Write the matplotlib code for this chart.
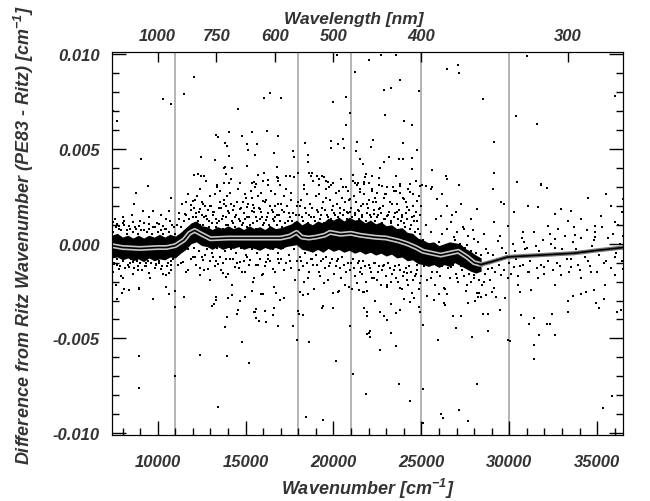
import matplotlib
matplotlib.use("Agg")
import matplotlib.pyplot as plt
from matplotlib.ticker import MultipleLocator, FormatStrFormatter

# units: wavenumber in cm^-1, differences in 1e-3 cm^-1
mean_x = [7400, 8000, 9000, 10000, 10500, 11000, 11500, 11800, 12100, 12500, 13000, 14000,
          15000, 16000, 17000, 17500, 17900, 18200, 18600, 19000, 19500, 19800, 20400, 21000,
          21500, 22300, 23000, 23700, 24200, 24700, 25100, 25600, 26100, 26600, 27100, 27600,
          28000, 28400, 29000, 29900, 30800, 31800, 33700, 35000, 36500]
mean_mk = [-0.1, -0.2, -0.25, -0.2, -0.2, -0.1, 0.2, 0.55, 0.7, 0.5, 0.26, 0.3,
           0.3, 0.3, 0.3, 0.4, 0.6, 0.35, 0.3, 0.35, 0.45, 0.6, 0.5, 0.55,
           0.45, 0.35, 0.3, 0.15, 0.0, -0.2, -0.4, -0.5, -0.6, -0.5, -0.4, -0.7,
           -1.0, -1.1, -0.95, -0.7, -0.65, -0.6, -0.5, -0.35, -0.2]

# dense core of the point cloud (ragged upper / lower edge)
band_x = [7400, 7700, 8000, 8300, 8600, 8900, 9200, 9500, 9800, 10100, 10400, 10700,
          11000, 11300, 11600, 11900, 12200, 12500, 12800, 13100, 13400, 13700, 14000, 14300,
          14600, 14900, 15200, 15500, 15800, 16100, 16400, 16700, 17000, 17300, 17600, 17900,
          18200, 18500, 18800, 19100, 19400, 19700, 20000, 20300, 20600, 20900, 21200, 21500,
          21800, 22100, 22400, 22700, 23000, 23300, 23600, 23900, 24200, 24500, 24800, 25100,
          25400, 25700, 26000, 26300, 26600, 26900, 27200, 27500, 27800, 28100, 28400]
band_hi = [0.45, 0.55, 0.35, 0.45, 0.3, 0.45, 0.3, 0.45, 0.35, 0.5, 0.35, 0.5,
           0.4, 0.6, 0.85, 1.1, 1.2, 0.95, 0.9, 0.75, 0.9, 0.8, 0.95, 0.8,
           0.9, 0.75, 0.95, 0.8, 0.9, 0.75, 0.95, 0.8, 0.85, 0.95, 1.05, 1.25,
           1.0, 1.15, 1.0, 1.2, 1.1, 1.35, 1.25, 1.4, 1.2, 1.4, 1.25, 1.3,
           1.1, 1.25, 1.05, 1.15, 0.95, 1.0, 0.8, 0.85, 0.6, 0.55, 0.3, 0.2,
           0.05, 0.1, -0.1, 0.0, 0.1, 0.05, 0.0, -0.25, -0.4, -0.6, -0.75]
band_lo = [-0.75, -0.7, -0.85, -0.75, -0.9, -0.8, -0.95, -0.75, -0.9, -0.8, -0.85, -0.7,
           -0.75, -0.5, -0.3, 0.0, 0.1, -0.1, -0.15, -0.3, -0.15, -0.3, -0.2, -0.25,
           -0.15, -0.3, -0.2, -0.25, -0.35, -0.2, -0.3, -0.2, -0.3, -0.15, -0.1, -0.05,
           -0.3, -0.35, -0.45, -0.3, -0.45, -0.25, -0.4, -0.3, -0.45, -0.35, -0.5, -0.4,
           -0.55, -0.45, -0.6, -0.5, -0.65, -0.55, -0.75, -0.7, -0.9, -0.85, -1.05, -1.1,
           -1.2, -1.1, -1.25, -1.1, -1.2, -1.0, -1.15, -1.3, -1.45, -1.55, -1.45]

# outlying lines
out_x = [
    7430, 7710, 9050, 9430, 10290, 10770, 11490, 12040, 12480, 12080, 12290, 12480, 12610, 13240, 13340,
    13430, 13390, 13750, 13810, 13870, 13810, 13970, 14040, 14060, 14230, 14040, 13750, 14550, 14800, 15070,
    15130, 15370, 15530, 15660, 15070, 15700, 16020, 16020, 16400, 17030, 16230, 16860, 16590, 16780, 16770,
    16820, 16950, 15340, 15470, 15580, 16000, 16290, 17280, 17530, 17680, 17770, 17970, 18400, 18540, 18570,
    18630, 18780, 19050, 19200, 19370, 19490, 19600, 19700, 19870, 19850, 19870, 19980, 20210, 20270, 20570,
    20590, 20690, 20730, 20950, 21220, 21340, 21280, 21510, 21660, 21850, 22000, 21110, 21390, 21710, 22730,
    23530, 23810, 22900, 23300, 24860, 22950, 24000, 24480, 22250, 22150, 23940, 24730, 23140, 22900, 23710,
    23970, 24440, 24440, 22670, 21870, 22190, 22570, 23580, 23810, 24380, 24670, 21710, 26480, 27090, 27170,
    28480, 29110, 29140, 25580, 26380, 26440, 27140, 25050, 25240, 25620, 30990, 30380, 31570, 36040, 30440,
    31810, 32150,
    7710, 7970, 8100, 8340, 8950, 9710, 10670, 11010, 11010, 11470, 8910, 8950, 11010, 12420, 13430,
    13940, 13090, 13200, 13300, 13340, 13850, 13970, 14000, 14230, 14540, 14570, 14710, 14990, 14820, 15180,
    15390, 15470, 15530, 15620, 15620, 15770, 15870, 16000, 16100, 16150, 16610, 16570, 16710, 16860, 16950,
    17200, 17710, 17910, 18000, 18040, 18100, 18290, 18250, 18570, 18610, 18420, 19430, 19340, 19390, 20000,
    20150, 20250, 20330, 20950, 21110, 21050, 21430, 21710, 21710, 21910, 21870, 22000, 22060, 21680, 21910,
    21910, 22100, 22380, 22630, 22670, 22860, 23050, 23300, 23300, 23530, 23580, 23770, 24000, 24340, 24570,
    24860, 24910, 25110, 23710, 24340, 25110, 25110, 25300, 25710, 25940, 26000, 26290, 26330, 26480, 26820,
    26950, 27240, 27660, 27870, 28060, 28250, 28480, 28670, 28770, 28820, 29010, 29240, 29490, 29750, 29910,
    30060, 26100, 26250, 27140, 27660, 28150, 30630, 30670, 31140, 31240, 31430, 31430, 31430, 31680, 32150,
    32340, 32440, 32610, 33340, 33340, 33620, 34060, 34340, 34800, 34950, 35110, 35390, 36150, 36340, 35340,
    35850,
]
out_mk = [
    7.03, 6.49, 4.50, 3.05, 7.64, 7.37, 7.89, 8.83, 4.57, 3.63, 3.66, 3.58, 3.58, 4.41, 5.76,
    5.62, 3.10, 4.02, 4.05, 3.70, 5.32, 5.15, 5.90, 4.61, 4.02, 3.19, 3.19, 7.12, 5.67, 5.24,
    4.97, 5.88, 4.71, 5.29, 4.10, 3.63, 3.75, 7.71, 7.97, 7.68, 5.97, 5.67, 4.80, 4.05, 3.54,
    3.49, 3.10, 3.20, 3.25, 3.15, 3.30, 3.35, 3.58, 3.58, 4.89, 4.59, 3.75, 5.32, 4.71, 4.33,
    3.75, 3.72, 3.55, 3.40, 3.58, 3.50, 3.30, 3.25, 3.10, 5.44, 5.06, 7.47, 9.95, 5.24, 5.55,
    5.03, 7.76, 6.27, 6.90, 9.07, 5.38, 4.89, 4.50, 4.19, 3.70, 9.72, 3.63, 3.19, 3.26, 9.95,
    9.95, 8.64, 8.12, 8.24, 8.06, 6.81, 6.46, 6.25, 5.46, 5.10, 5.32, 4.97, 4.59, 4.31, 4.49,
    4.45, 4.54, 3.93, 4.02, 3.70, 3.58, 3.49, 3.58, 3.05, 3.14, 3.31, 3.23, 9.21, 9.42, 9.02,
    7.63, 5.36, 3.75, 3.87, 3.58, 3.40, 3.10, 3.10, 3.05, 2.97, 9.91, 6.77, 6.32, 7.82, 3.26,
    3.10, 2.93,
    -2.93, -2.62, -2.41, -2.44, -2.41, -2.92, -2.67, -2.50, -3.32, -2.79, -5.93, -7.64, -6.98, -5.88, -8.60,
    -5.93, -3.28, -3.19, -2.97, -2.79, -4.40, -3.89, -2.88, -2.71, -3.70, -3.52, -3.00, -2.79, -5.18, -6.32,
    -2.50, -3.61, -3.58, -3.44, -3.93, -4.07, -2.65, -2.65, -3.54, -4.15, -3.37, -3.75, -2.58, -4.36, -2.97,
    -2.84, -4.33, -5.06, -3.54, -3.72, -2.57, -3.75, -2.71, -2.67, -5.20, -9.13, -9.30, -3.37, -3.28, -3.37,
    -6.19, -2.53, -2.48, -4.33, -6.86, -2.41, -2.44, -2.57, -3.40, -3.58, -7.94, -4.71, -4.94, -2.57, -3.84,
    -4.76, -4.62, -3.05, -3.63, -5.62, -3.82, -4.05, -3.19, -4.71, -3.66, -5.41, -3.52, -2.92, -3.09, -2.88,
    -3.32, -3.58, -4.28, -7.42, -8.29, -7.68, -9.48, -2.74, -2.97, -5.06, -2.65, -3.14, -3.23, -2.65, -3.84,
    -4.45, -3.84, -3.14, -4.94, -3.02, -2.79, -3.70, -2.71, -3.70, -4.59, -2.53, -2.79, -3.49, -2.88, -5.09,
    -5.15, -8.99, -9.20, -8.76, -9.34, -7.42, -2.57, -3.75, -4.24, -2.44, -3.93, -5.36, -6.11, -4.80, -4.22,
    -4.22, -3.70, -4.80, -3.61, -3.00, -2.76, -2.67, -2.57, -2.44, -3.14, -3.37, -2.93, -3.63, -3.52, -8.68,
    -8.06,
]

# lines in the halo around the dense core
halo_x = [
    11240, 11530, 11620, 11910, 12000, 12190, 12380, 12570, 12770, 12950, 13140, 13340, 13530, 13710, 13910,
    14000, 14190, 14380, 14670, 14860, 14950, 15090, 15340, 15430, 15620, 15810, 16000, 16190, 16380, 16570,
    16670, 16860,
    10480, 10670, 10860, 11140, 11430, 11710, 12000, 12190, 12380, 12570, 12860, 13140, 13430, 13710, 13910,
    14100, 14380, 14670, 14950, 15240, 15620, 15910, 16190, 16570, 16860,
    7430, 7710, 8000, 8100, 8670, 8570, 8770, 9140, 9710, 10100, 10480, 10770, 10670, 7810, 8380,
    8950, 9530, 10290,
    7530, 7810, 8000, 8380, 8570, 8860, 9340, 9530, 9910, 10190, 10480, 10770, 7620, 8950, 10480,
    20570, 20950, 21240, 21530, 21720, 21910, 22190, 22380, 22570, 22760, 22950, 23240, 23430, 23620, 23810,
    24000, 24190, 24380, 24570, 24760, 24950, 20760, 21430, 22290, 23050, 23910,
    25530, 25910, 26190, 26480, 26670, 26960, 27240, 27430, 27810, 28000, 28190, 28580, 29050, 29150, 29530,
    29720, 29910, 30290, 30770, 31050, 31620, 31810, 32190, 32580, 32960, 33340, 33530, 34100, 34480, 34860,
    35240, 35530, 35810, 36000, 36390, 36450, 26100, 26860, 27620, 29340, 30860, 32580, 33720, 34860,
    25150, 25530, 25910, 26290, 26670, 27050, 27340, 27620, 28000, 28290, 28580, 28770, 29150, 29530, 29910,
    30290, 30480, 31050, 31620, 32000, 32580, 32960, 33530, 34100, 34670, 35430, 36000, 36450, 28380, 23810,
    23050, 22290, 21530, 24190, 24770,
    28800, 29000, 29300, 29600, 30000, 30300, 30600, 30900, 31200, 31500, 31800, 32100, 32400, 32700, 33000,
    33300, 33600, 33900, 34200, 34500, 34800, 35100, 35400, 35700, 36000, 36300,
]
halo_mk = [
    1.31, 1.57, 2.18, 2.04, 2.27, 1.40, 1.83, 2.09, 1.48, 2.01, 1.66, 1.31, 2.21, 1.48, 2.01,
    1.75, 2.09, 1.40, 1.83, 2.18, 1.31, 1.92, 1.75, 2.04, 1.40, 1.83, 2.27, 1.27, 2.01, 1.66,
    1.40, 2.09,
    -0.70, -1.57, -0.79, -1.13, -0.96, -1.40, -0.70, -1.13, -1.66, -0.87, -1.31, -0.70, -1.05, -1.57, -1.74,
    -0.79, -1.22, -0.96, -1.48, -0.87, -1.13, -1.66, -0.96, -1.31, -0.79,
    1.13, 1.05, 1.40, 1.22, 2.09, 1.13, 2.70, 1.75, 1.75, 1.05, 1.31, 2.44, 1.75, 0.96, 0.96,
    0.96, 1.05, 0.96,
    -1.05, -1.31, -1.83, -1.22, -0.96, -1.40, -1.17, -1.57, -1.05, -1.31, -1.66, -1.13, -2.18, -2.36, -2.27,
    2.97, 2.36, 3.23, 2.71, 3.14, 2.09, 2.88, 2.44, 1.83, 3.05, 2.62, 2.18, 2.79, 1.66, 3.14,
    2.36, 1.92, 2.71, 1.48, 2.27, 3.05, 1.66, 1.75, 1.57, 1.48, 1.40,
    2.88, 2.36, 2.62, 2.01, 1.13, 1.66, 2.09, 0.79, 1.31, 0.26, 1.83, 0.52, 2.88, 1.13, 2.18,
    2.09, 0.96, 1.66, 0.61, 2.01, 1.92, 3.14, 0.96, 1.57, 1.83, 1.22, 1.75, 1.31, 2.44, 0.96,
    1.48, 2.62, 2.01, 1.13, 1.66, 2.36, 1.48, 0.35, -0.09, 0.17, 0.09, 0.26, 0.44, 0.35,
    -0.96, -1.83, -1.48, -2.36, -1.22, -1.83, -1.40, -2.18, -1.66, -2.62, -2.01, -1.31, -2.36, -1.66, -1.83,
    -1.22, -2.18, -1.48, -1.83, -1.22, -2.18, -1.66, -1.22, -1.83, -1.48, -2.18, -1.66, -1.31, -2.79, -2.36,
    -2.18, -1.83, -1.48, -1.57, -1.13,
    -0.5, -1.3, -0.8, -0.2, -1.0, -0.4, -1.2, -0.3, -0.9, -0.1, -1.1, -0.6, 0.0, -1.0, -0.3,
    -0.8, 0.1, -1.1, -0.4, -0.9, 0.2, -0.6, -1.0, -0.2, -0.7, 0.0,
]

# lines hugging the edges of the dense core
edge_x = [
    7450, 7520, 7600, 7680, 7760, 7850, 7930, 8010, 8090, 8170, 8250, 8330, 8410, 8490, 8570,
    8650, 8730, 8810, 8890, 8970, 9050, 9130, 9210, 9290, 9370, 9450, 9530, 9610, 9690, 9770,
    9850, 9930, 10010, 10090, 10170, 10250, 10330, 10410, 10490, 10570, 10650, 10730, 10810, 10890, 10970,
    11100, 11200, 11300, 11400, 11500, 11600, 11700, 11800, 11900, 12000, 12100, 12200, 12300, 12400, 12500,
    12600, 12700, 12800, 12900, 13000, 13100, 13200, 13300, 13400, 13500, 13600, 13700, 13800, 13900, 14000,
    14100, 14200, 14300, 14400, 14500, 14600, 14700, 14800, 14900, 15000, 15100, 15200, 15300, 15400, 15500,
    15600, 15700, 15800, 15900, 16000, 16100, 16200, 16300, 16400, 16500, 16600, 16700, 16800, 16900, 17000,
    17100, 17200, 17300, 17400, 17500, 17600, 17700, 17800, 17900,
    11150, 11300, 11450, 11600, 11750, 11900, 12050, 12200, 12350, 12500, 12650, 12800, 12950, 13100, 13250,
    13400, 13550, 13700, 13850, 14000, 14150, 14300, 14450, 14600, 14750, 14900, 15050, 15200, 15350, 15500,
    15650, 15800, 15950, 16100, 16250, 16400, 16550, 16700, 16850, 17000, 17150, 17300, 17450, 17600, 17750,
    17900,
    18050, 18150, 18250, 18350, 18450, 18550, 18650, 18750, 18850, 18950, 19050, 19150, 19250, 19350, 19450,
    19550, 19650, 19750, 19850, 19950, 20050, 20150, 20250, 20350, 20450, 20550, 20650, 20750, 20850, 20950,
    21050, 21150, 21250, 21350, 21450, 21550, 21650, 21750, 21850, 21950, 22050, 22150, 22250, 22350, 22450,
    22550, 22650, 22750, 22850, 22950, 23050, 23150, 23250, 23350, 23450, 23550, 23650, 23750, 23850, 23950,
    24050, 24150, 24250, 24350, 24450, 24550, 24650, 24750, 24850, 24950,
    18100, 18250, 18400, 18550, 18700, 18850, 19000, 19150, 19300, 19450, 19600, 19750, 19900, 20050, 20200,
    20350, 20500, 20650, 20800, 20950, 21100, 21250, 21400, 21550, 21700, 21850, 22000, 22150, 22300, 22450,
    22600, 22750, 22900, 23050, 23200, 23350, 23500, 23650, 23800, 23950, 24100, 24250, 24400, 24550, 24700,
    24850, 25000,
    25100, 25250, 25400, 25550, 25700, 25850, 26000, 26150, 26300, 26450, 26600, 26750, 26900, 27050, 27200,
    27350, 27500, 27650, 27800, 27950, 28100, 28250, 28400,
    25150, 25300, 25450, 25600, 25750, 25900, 26050, 26200, 26350, 26500, 26650, 26800, 26950, 27100, 27250,
    27400, 27550, 27700, 27850, 28000, 28150, 28300, 28450,
    28600, 28700, 28900, 29100, 29200, 29400, 29500, 29700, 29800, 30100, 30200, 30400, 30500, 30700, 30800,
    31000, 31100, 31300, 31400, 31600, 31700, 31900, 32000, 32200, 32300, 32500, 32600, 32800, 32900, 33100,
    33200, 33400, 33500, 33700, 33800, 34000, 34100, 34300, 34400, 34600, 34700, 34900, 35000, 35200, 35300,
    35500, 35600, 35800, 35900, 36100, 36200, 36400, 36480,
]
edge_mk = [
    0.6, -1.0, 0.9, -0.8, 0.4, -1.2, 0.7, -0.9, 1.0, -0.7, 0.5, -1.1, 0.8, -0.8, 0.6,
    -1.3, 0.9, -0.9, 0.5, -1.0, 0.7, -0.8, 1.1, -1.2, 0.6, -0.9, 0.8, -1.0, 0.5, -0.8,
    0.9, -1.1, 0.6, -0.9, 0.7, -1.2, 0.5, -0.8, 0.8, -1.0, 0.6, -0.9, 1.0, -0.8, 0.5,
    1.0, 1.6, 0.9, 2.1, 1.2, 1.5, 2.6, 1.3, 1.8, 1.4, 2.3, 1.6, 1.2, 2.9, 1.5,
    1.0, 2.0, 1.3, 0.9, 2.5, 1.1, 1.7, 0.9, 3.0, 1.2, 1.9, 0.8, 2.3, 1.4, 1.0,
    2.7, 1.2, 1.8, 0.9, 2.2, 1.3, 3.2, 1.0, 1.6, 2.4, 0.9, 1.4, 2.8, 1.1, 1.9,
    0.8, 2.5, 1.3, 1.7, 1.0, 2.2, 1.4, 3.1, 0.9, 1.8, 1.2, 2.6, 1.0, 1.5, 2.1,
    0.9, 1.7, 2.9, 1.2, 1.4, 2.3, 1.6, 1.1, 2.0,
    -0.6, -1.0, -0.4, -1.5, -0.3, -0.8, -0.2, -1.1, -0.4, -0.7, -1.4, -0.3, -0.9, -0.5, -1.2,
    -0.2, -0.7, -1.0, -0.4, -1.6, -0.3, -0.8, -0.5, -1.3, -0.2, -0.9, -0.6, -1.1, -0.3, -1.8,
    -0.5, -0.8, -0.2, -1.2, -0.6, -0.9, -0.3, -1.5, -0.5, -0.8, -0.2, -1.0, -0.6, -1.3, -0.3,
    -0.9,
    1.5, 2.3, 1.2, 2.9, 1.6, 1.1, 2.1, 1.4, 3.3, 1.2, 1.8, 2.6, 1.3, 1.9, 1.1,
    2.4, 1.5, 3.0, 1.3, 2.0, 1.6, 2.7, 1.4, 1.9, 3.4, 1.5, 2.2, 1.3, 2.8, 1.7,
    1.4, 2.5, 1.6, 3.1, 1.3, 2.0, 1.5, 2.6, 1.2, 1.9, 3.2, 1.4, 2.2, 1.2, 2.7,
    1.5, 1.9, 1.1, 2.4, 1.3, 3.0, 1.7, 1.1, 2.1, 1.4, 2.8, 1.0, 1.8, 1.2, 2.4,
    0.9, 1.6, 2.9, 0.8, 1.4, 2.0, 0.6, 1.2, 2.5, 0.5,
    -0.7, -1.2, -0.5, -1.8, -0.8, -1.1, -0.6, -1.5, -0.9, -2.1, -0.7, -1.2, -0.8, -1.6, -0.9,
    -1.3, -0.7, -2.2, -1.0, -1.4, -0.8, -1.7, -1.0, -1.3, -0.9, -2.0, -1.1, -1.5, -1.0, -1.9,
    -1.2, -1.4, -1.1, -2.3, -1.3, -1.6, -1.2, -2.0, -1.4, -1.7, -1.3, -2.2, -1.5, -1.9, -1.6,
    -2.4, -1.7,
    0.2, 1.0, 0.0, 0.6, -0.1, 1.3, 0.1, 0.5, -0.2, 0.8, 0.0, 1.5, 0.2, 0.6, 0.0,
    0.9, -0.2, 0.4, -0.4, 0.7, -0.5, 0.1, -0.6,
    -1.2, -1.9, -1.0, -1.5, -2.2, -1.1, -1.7, -1.2, -2.4, -1.3, -1.8, -1.1, -1.6, -2.0, -1.2,
    -1.7, -2.5, -1.6, -2.0, -1.8, -2.6, -1.9, -2.2,
    -1.6, -0.3, -1.9, -0.6, -1.5, -1.1, 0.4, -1.4, -0.5, -1.6, 0.0, -0.8, -1.7, 0.3, -1.1,
    -0.2, -1.5, -0.6, 0.6, -1.3, -0.4, 0.2, -1.6, -0.9, 0.5, -1.4, -0.2, 0.8, -1.2, -0.5,
    0.4, -1.5, -0.8, 0.9, -0.3, -1.4, 0.3, -0.7, 0.7, -1.2, -0.1, 0.6, -1.5, -0.4, 0.9,
    -0.9, 0.3, -1.3, 0.5, -0.5, 1.0, -0.9, 0.4,
]

# second, looser layer of the cloud
spread_x = [
    12050, 12140, 12230, 12330, 12430, 12530, 12640, 12740, 12840, 12940, 13040, 13150, 13250, 13360, 13460,
    13560, 13660, 13770, 13870, 13970, 14060, 14160, 14260, 14360, 14460, 14560, 14660, 14760, 14860, 14960,
    15060, 15160, 15260, 15360, 15460, 15560, 15660, 15760, 15860, 15960, 16060, 16160, 16260, 16360, 16460,
    16560, 16660, 16760, 16860, 16960, 17060, 17160, 17260, 17360, 17460, 17560, 17660, 17760, 17860, 17960,
    18100, 18200, 18300, 18400, 18500, 18600, 18700, 18800, 18900, 19000, 19100, 19200, 19300, 19400, 19500,
    19600, 19700, 19800, 19900, 20000, 20100, 20200, 20300, 20400, 20500, 20600, 20700, 20800, 20900, 21000,
    21100, 21200, 21300, 21400, 21500, 21600, 21700, 21800, 21900, 22000, 22100, 22200, 22300, 22400, 22500,
    22600, 22700, 22800, 22900, 23000, 23100, 23200, 23300, 23400, 23500, 23600, 23700, 23800, 23900, 24000,
    24100, 24200, 24300, 24400, 24500, 24600, 24700, 24800, 24900, 25000,
    18050, 18180, 18320, 18480, 18620, 18780, 18920, 19080, 19220, 19380, 19520, 19680, 19820, 19980, 20120,
    20280, 20420, 20580, 20720, 20880, 21020, 21180, 21320, 21480, 21620, 21780, 21920, 22080, 22220, 22380,
    22520, 22680, 22820, 22980, 23120, 23280, 23420, 23580, 23720, 23880, 24020, 24180, 24320, 24480, 24620,
    24780, 24920,
    12100, 12400, 12700, 13000, 13300, 13600, 13900, 14200, 14500, 14800, 15100, 15400, 15700, 16000, 16300,
    16600, 16900, 17200, 17500, 17800,
    7470, 7570, 7700, 7800, 7900, 8050, 8150, 8280, 8400, 8520, 8620, 8750, 8860, 8980, 9100,
    9230, 9350, 9480, 9580, 9720, 9820, 9950, 10060, 10200, 10300, 10430, 10540, 10680, 10780, 10900,
]
spread_mk = [
    1.9, 1.1, 2.5, 1.7, 1.0, 2.2, 1.4, 3.3, 1.8, 1.2, 2.0, 1.5, 2.6, 1.1, 1.9,
    2.8, 1.3, 2.1, 1.0, 2.5, 1.6, 3.4, 1.1, 2.0, 1.5, 2.9, 1.2, 1.9, 1.1, 2.6,
    1.4, 2.1, 1.0, 2.4, 1.7, 3.0, 1.2, 1.9, 2.7, 1.4, 1.1, 2.3, 1.6, 1.0, 2.8,
    1.3, 2.0, 1.5, 3.3, 1.2, 1.8, 2.5, 1.1, 2.0, 1.6, 2.7, 1.2, 3.5, 1.5, 2.2,
    2.0, 1.4, 3.1, 1.9, 2.6, 1.5, 3.6, 1.9, 1.4, 2.5, 1.7, 3.1, 1.5, 2.2, 1.8,
    2.9, 1.4, 2.3, 1.8, 3.2, 1.5, 2.1, 2.8, 1.6, 2.4, 1.8, 3.0, 1.6, 2.3, 1.9,
    3.3, 1.5, 2.2, 1.8, 2.9, 1.4, 2.1, 3.5, 1.6, 2.3, 1.5, 2.8, 1.8, 2.2, 1.4,
    3.1, 1.6, 2.0, 1.3, 2.6, 1.5, 2.2, 1.2, 3.0, 1.6, 2.1, 1.3, 2.7, 1.5, 1.1,
    2.2, 1.3, 1.8, 1.0, 2.6, 1.2, 1.7, 0.8, 1.5, 2.0,
    -1.4, -0.9, -2.0, -1.0, -1.5, -0.8, -2.4, -1.1, -1.7, -0.8, -1.3, -1.9, -1.0, -2.6, -1.2,
    -0.8, -1.8, -1.1, -1.5, -2.3, -1.0, -1.3, -2.1, -0.9, -1.6, -1.2, -2.5, -1.3, -1.8, -1.0,
    -1.5, -2.2, -1.2, -1.7, -1.0, -2.0, -1.4, -1.8, -1.1, -2.4, -1.5, -1.9, -1.2, -2.6, -1.7,
    -1.4, -2.1,
    -0.7, -1.3, -0.6, -1.9, -0.9, -1.4, -0.8, -2.2, -1.0, -1.5, -0.7, -2.0, -1.1, -1.6, -0.8,
    -2.3, -1.0, -1.4, -0.9, -1.9,
    -1.5, 1.3, -1.1, 0.8, -1.7, 1.1, -1.3, 0.7, -1.0, 1.5, -1.6, 0.8, -1.2, 1.2, -1.4,
    0.7, -1.0, 1.4, -1.8, 0.9, -1.3, 1.1, -1.0, 1.5, -1.6, 0.8, -1.2, 1.2, -1.4, 0.9,
]

ref_lines = [11000, 18000, 21000, 25000, 30000]
wl_ticks = [1000, 750, 600, 500, 400, 300]
x_ticks = [10000, 15000, 20000, 25000, 30000, 35000]

plt.rcParams['font.family'] = ['Liberation Sans', 'DejaVu Sans']
plt.rcParams['font.style'] = 'italic'
plt.rcParams['font.weight'] = 'bold'
plt.rcParams['axes.labelweight'] = 'bold'
plt.rcParams['mathtext.fontset'] = 'custom'
plt.rcParams['mathtext.rm'] = 'Liberation Sans:italic:bold'
plt.rcParams['mathtext.it'] = 'Liberation Sans:italic:bold'
plt.rcParams['mathtext.default'] = 'rm'
plt.rcParams['axes.unicode_minus'] = False
txt = '#333333'

fig = plt.figure(figsize=(6.5, 5.02), dpi=100)
ax = fig.add_axes([0.1723, 0.1315, 0.7869, 0.7620])

for xv in ref_lines:
    ax.axvline(xv, color='#b4b4b4', lw=1.4, zorder=1)

ax.fill_between(band_x, [v * 1e-3 for v in band_lo], [v * 1e-3 for v in band_hi],
                color='k', lw=0, zorder=2)
for xs, ys in [(out_x, out_mk), (halo_x, halo_mk), (edge_x, edge_mk), (spread_x, spread_mk)]:
    ax.plot(xs, [v * 1e-3 for v in ys], 's', color='k', ms=1.6, mew=0, zorder=3)

# running mean: light-outlined inside the dense band, plain grey beyond it
mean_y = [v * 1e-3 for v in mean_mk]
n_in = mean_x.index(28400) + 1
ax.plot(mean_x[:n_in], mean_y[:n_in], color='#c8c8c8', lw=3.6, zorder=4)
ax.plot(mean_x[n_in - 1:], mean_y[n_in - 1:], color='#777777', lw=3.0, zorder=4)
ax.plot(mean_x, mean_y, color='k', lw=1.2, zorder=5)

ax.set_xlim(7400, 36500)
ax.set_ylim(-0.0101, 0.0101)
ax.set_xticks(x_ticks)
ax.xaxis.set_minor_locator(MultipleLocator(1000))
ax.yaxis.set_major_locator(MultipleLocator(0.005))
ax.yaxis.set_minor_locator(MultipleLocator(0.001))
ax.yaxis.set_major_formatter(FormatStrFormatter('%.3f'))
ax.tick_params(which='both', direction='in', top=False, right=True, width=1, colors='k',
               labelcolor=txt, labelsize=12)
ax.tick_params(which='major', length=10)
ax.tick_params(which='minor', length=5)
ax.tick_params(axis='x', pad=14)
ax.tick_params(axis='y', pad=9)

ax.set_xlabel('Wavenumber [cm$^{-1}$]', fontsize=13, color=txt, labelpad=5)
ax.set_ylabel('Difference from Ritz Wavenumber (PE83 - Ritz) [cm$^{-1}$]', fontsize=13,
              color=txt)
ax.yaxis.set_label_coords(-0.148, 0.525)

ax2 = ax.twiny()
ax2.set_xlim(ax.get_xlim())
ax2.set_xticks([1e7 / w for w in wl_ticks])
ax2.set_xticklabels([str(w) for w in wl_ticks])
ax2.xaxis.set_minor_locator(plt.NullLocator())
ax2.tick_params(direction='in', length=7, width=1, labelsize=12, labelcolor=txt, pad=7)
ax2.set_xlabel('Wavelength [nm]', fontsize=12.5, color=txt)
ax2.xaxis.set_label_coords(0.473, 1.078)

fig.savefig('out.png', dpi=100)
